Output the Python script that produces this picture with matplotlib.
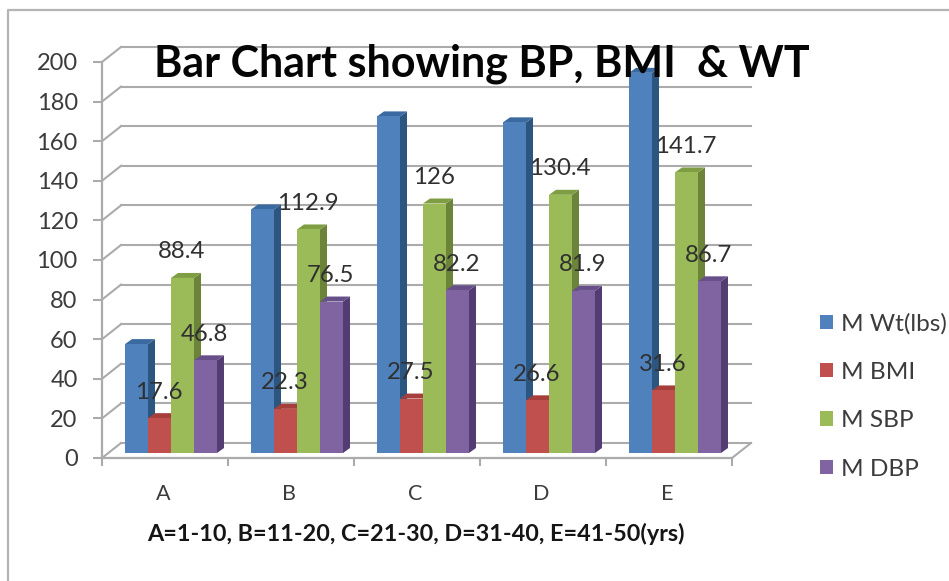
import matplotlib
matplotlib.use("Agg")
import matplotlib.pyplot as plt
import numpy as np
from matplotlib.patches import Polygon
from matplotlib.lines import Line2D
from matplotlib.transforms import ScaledTranslation

categories = ["A", "B", "C", "D", "E"]
wt = [55, 123, 170, 167, 192]
bmi = [17.6, 22.3, 27.5, 26.6, 31.6]
sbp = [88.4, 112.9, 126, 130.4, 141.7]
dbp = [46.8, 76.5, 82.2, 81.9, 86.7]
series_names = ["M Wt(lbs)", "M BMI", "M SBP", "M DBP"]
yticks = list(range(0, 201, 20))

front = ["#4F81BD", "#C0504D", "#9BBB59", "#8064A2"]
side = ["#2C5580", "#8A3533", "#6B8439", "#523C72"]
top = ["#3A6A9F", "#A63F3C", "#7F9E44", "#674F8A"]
grid = "#ABABAB"
txt = "#3C3C3C"
FONT = "Lato"
plt.rcParams["font.family"] = [FONT, "DejaVu Sans"]

W, H = 949, 581
fig = plt.figure(figsize=(W / 100, H / 100), dpi=100)
ax = fig.add_axes([102 / W, (H - 458) / H, 630 / W, 396 / H])
ax.set_xlim(0, 5)
ax.set_ylim(0, 200)
px_x = 5 / 630
px_y = 200 / 396

# outer frame
fig.add_artist(Line2D([8 / W, 8 / W, 1], [0, 1 - 10 / H, 1 - 10 / H], color="#B4B4B4", lw=1.6))

# walls and floor
wx, wy = 19 * px_x, 15 * px_y
for v in yticks:
    ax.plot([0, wx], [v, v + wy], color=grid, lw=1.5, clip_on=False, zorder=1)
    ax.plot([wx, 5 + wx], [v + wy, v + wy], color=grid, lw=1.5, clip_on=False, zorder=1)
ax.plot([5, 5 + wx], [0, wy], color=grid, lw=1.5, clip_on=False, zorder=1)

# bars
bar_tf = ax.transData + ScaledTranslation(6 / 100, 5 / 100, fig.dpi_scale_trans)
dx, dy = 7 * px_x, 5 * px_y
bw = 0.1825
start = 0.135
x0 = np.arange(len(categories))
all_vals = [wt, bmi, sbp, dbp]
handles = []
for s, vals in enumerate(all_vals):
    xs = x0 + start + s * bw
    z = 3 + s
    for x, v in zip(xs, vals):
        ax.add_patch(Polygon([(x + bw, 0), (x + bw, v), (x + bw + dx, v + dy), (x + bw + dx, dy)],
                             closed=True, fc=side[s], ec="none", transform=bar_tf, zorder=z, clip_on=False))
        ax.add_patch(Polygon([(x, v), (x + bw, v), (x + bw + dx, v + dy), (x + dx, v + dy)],
                             closed=True, fc=top[s], ec="none", transform=bar_tf, zorder=z, clip_on=False))
    b = ax.bar(xs, vals, width=bw, align="edge", color=front[s], transform=bar_tf,
               zorder=z + 0.5, clip_on=False, label=series_names[s])
    handles.append(b)
ax.set_xlim(0, 5)
ax.set_ylim(0, 200)

# data labels (not on weight series)
for s in (1, 2, 3):
    xs = x0 + start + (s + 0.5) * bw
    for x, v in zip(xs, all_vals[s]):
        ax.annotate(f"{v:g}", xy=(x, v), xycoords=bar_tf, xytext=(-0.5, 26 * 0.72), textcoords="offset points",
                    ha="center", va="center", fontsize=17.3, color="#303030", zorder=20, annotation_clip=False)

# axes
for k in ("top", "right"):
    ax.spines[k].set_visible(False)
for k in ("left", "bottom"):
    ax.spines[k].set_color(grid)
    ax.spines[k].set_linewidth(1.6)
    ax.spines[k].set_zorder(2)
ax.patch.set_alpha(0)
ax.set_yticks(yticks)
ax.set_xticks(range(6))
ax.set_xticklabels([])
ax.set_xticks(x0 + 0.5 - 0.015, categories, minor=True)
ax.tick_params(axis="y", length=6.5, width=1.5, color=grid, labelsize=17, labelcolor=txt, pad=11)
ax.tick_params(axis="x", which="major", length=6, width=1.5, color=grid)
ax.tick_params(axis="x", which="minor", length=0, labelsize=15.5, labelcolor=txt, pad=19)

# title, footer
fig.text(481.5 / W, 1 - 63.5 / H, "Bar Chart showing BP, BMI  & WT", ha="center", va="center",
         fontsize=31, fontweight="bold", color="#050505", zorder=30)
fig.text(416 / W, 1 - 534 / H, "A=1-10, B=11-20, C=21-30, D=31-40, E=41-50(yrs)", ha="center", va="center",
         fontsize=16.8, fontweight="bold", color="#151515")

# legend
leg = ax.legend(handles=handles, labels=series_names, loc="upper left", bbox_to_anchor=(820 / W, 1 - 313 / H),
                bbox_transform=fig.transFigure, frameon=False, fontsize=17.6, labelcolor=txt,
                handlelength=0.53, handleheight=0.53, handletextpad=0.33, labelspacing=1.12,
                borderpad=0, borderaxespad=0)

fig.savefig("out.png", dpi=100)
